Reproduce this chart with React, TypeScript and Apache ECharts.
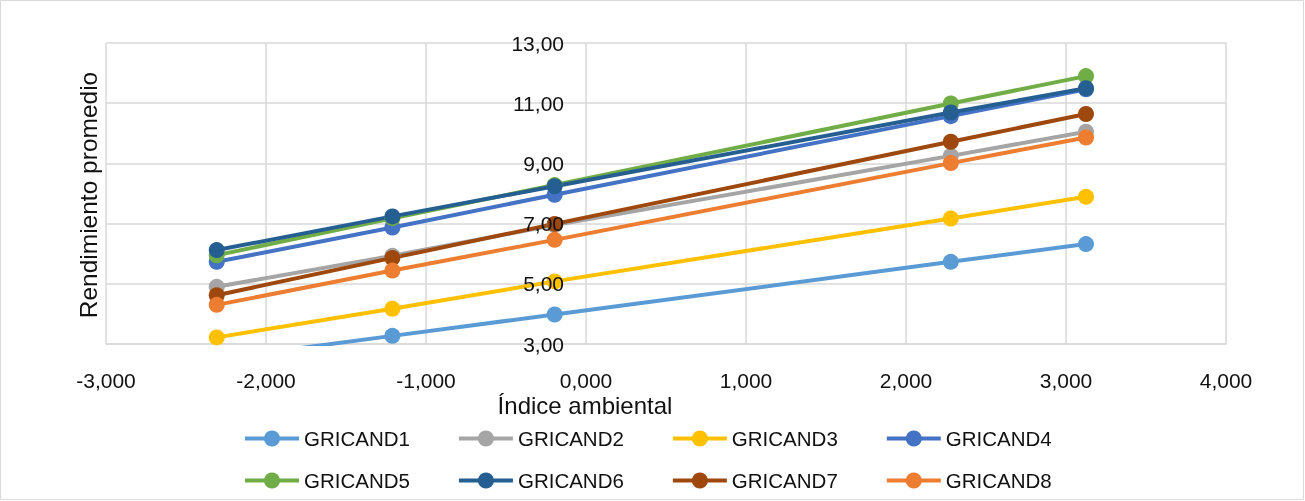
import React, { useEffect, useRef } from "react";
import * as echarts from "echarts";

const envIndex = [-2.308, -1.21, -0.196, 2.28, 3.125];
const seriesNames = ["GRICAND1", "GRICAND2", "GRICAND3", "GRICAND4", "GRICAND5", "GRICAND6", "GRICAND7", "GRICAND8"];
const g1 = [2.5, 3.27, 3.98, 5.73, 6.32];
const g2 = [4.9, 5.93, 6.95, 9.25, 10.05];
const g3 = [3.22, 4.17, 5.08, 7.17, 7.89];
const g4 = [5.73, 6.87, 7.96, 10.57, 11.46];
const g5 = [5.95, 7.18, 8.28, 10.99, 11.9];
const g6 = [6.12, 7.24, 8.24, 10.69, 11.5];
const g7 = [4.62, 5.86, 6.99, 9.72, 10.64];
const g8 = [4.3, 5.44, 6.46, 9.01, 9.86];
const seriesValues = [g1, g2, g3, g4, g5, g6, g7, g8];
const colors = ["#5B9BD5", "#A5A5A5", "#FFC000", "#4472C4", "#70AD47", "#255E91", "#9E480E", "#ED7D31"];
const xTitle = "Índice ambiental";
const yTitle = "Rendimiento promedio";

export default function App() {
  const ref = useRef<HTMLDivElement>(null);
  useEffect(() => {
    if (!ref.current) return;
    const chart = echarts.init(ref.current, null, { renderer: "svg" });
    const font = "'Liberation Sans', Arial, sans-serif";
    const legendText = { fontSize: 20.5, color: "#111", fontFamily: font };
    const legendBase = {
      left: 238,
      itemWidth: 54,
      itemHeight: 20,
      itemGap: 47,
      textStyle: legendText,
      lineStyle: { width: 4 },
    };
    const yBase = {
      type: "value",
      position: "left",
      min: 3,
      max: 13,
      interval: 2,
      offset: -480,
      axisLine: { show: false },
      axisTick: { show: false },
    };
    chart.setOption({
      animation: false,
      color: colors,
      grid: { left: 106, right: 79, top: 43, bottom: 157 },
      xAxis: {
        type: "value",
        min: -3,
        max: 4,
        interval: 1,
        axisLine: { show: true, onZero: false, lineStyle: { color: "#d9d9d9", width: 1.5 } },
        axisTick: { show: false },
        splitLine: { show: true, lineStyle: { color: "#d9d9d9", width: 1.5 } },
        axisLabel: {
          margin: 26,
          fontSize: 21,
          color: "#111",
          fontFamily: font,
          formatter: (v: number) => v.toFixed(3).replace(".", ","),
        },
      },
      yAxis: [
        {
          ...yBase,
          splitLine: { show: true, lineStyle: { color: "#d9d9d9", width: 1.5 } },
          axisLabel: { show: false },
        },
        {
          ...yBase,
          z: 5,
          splitLine: { show: false },
          axisLabel: {
            margin: 22,
            fontSize: 21,
            color: "#111",
            fontFamily: font,
            formatter: (v: number) => v.toFixed(2).replace(".", ","),
          },
        },
      ],
      legend: [
        { ...legendBase, data: seriesNames.slice(0, 4), top: 423 },
        { ...legendBase, data: seriesNames.slice(4, 8), top: 465 },
      ],
      graphic: [
        {
          type: "rect",
          shape: { x: 0.5, y: 0.5, width: 1303, height: 499 },
          style: { fill: "none", stroke: "#d9d9d9", lineWidth: 1 },
          silent: true,
        },
        {
          type: "text",
          x: 585,
          y: 405,
          style: {
            text: xTitle,
            fontSize: 24,
            fill: "#111",
            fontFamily: font,
            textAlign: "center",
            textVerticalAlign: "middle",
          },
        },
        {
          type: "text",
          x: 88,
          y: 195,
          rotation: Math.PI / 2,
          style: {
            text: yTitle,
            fontSize: 24.5,
            fill: "#111",
            fontFamily: font,
            textAlign: "center",
            textVerticalAlign: "middle",
          },
        },
      ],
      series: seriesNames.map((name, i) => ({
        name,
        type: "line",
        yAxisIndex: 0,
        data: envIndex.map((x, j) => [x, seriesValues[i][j]]),
        symbol: "circle",
        symbolSize: 16,
        clip: true,
        lineStyle: { width: 4, color: colors[i] },
        itemStyle: { color: colors[i] },
      })),
    });
    return () => chart.dispose();
  }, []);
  return <div ref={ref} style={{ position: "fixed", left: 0, top: 0, width: 1305, height: 501 }} />;
}
